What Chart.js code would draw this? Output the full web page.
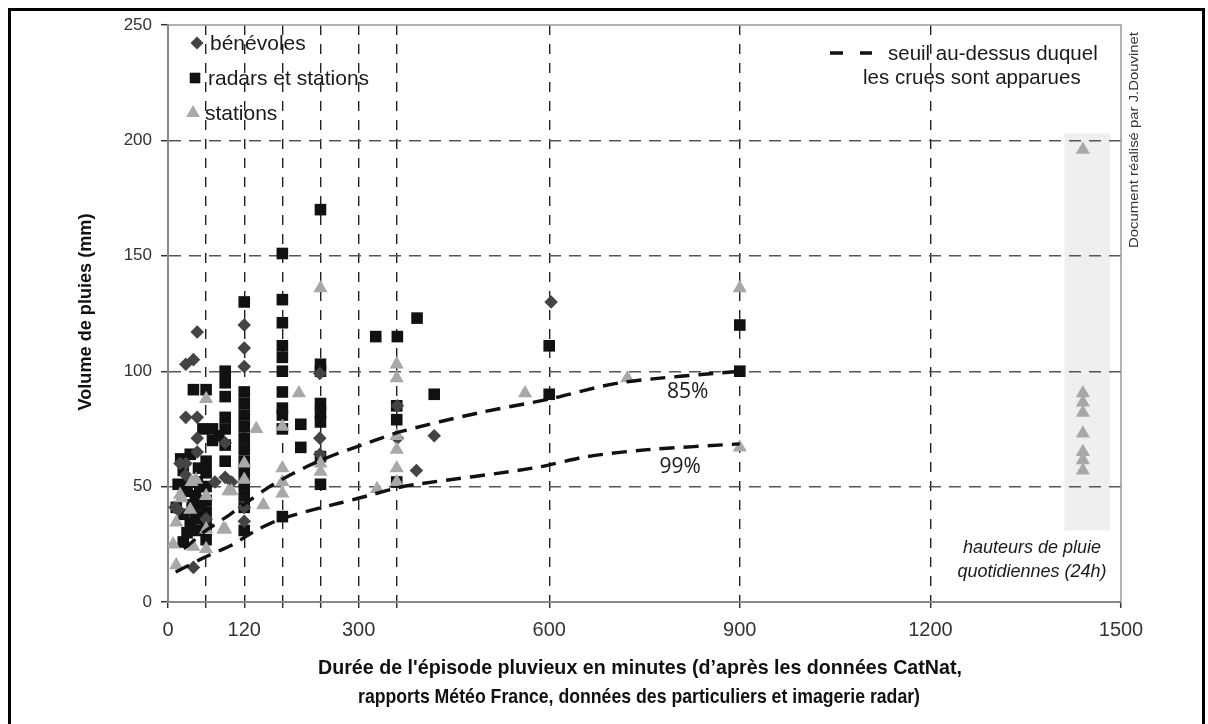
<!DOCTYPE html>
<html>
<head>
<meta charset="utf-8">
<script src="https://cdn.jsdelivr.net/npm/chart.js@4.4.0/dist/chart.umd.min.js"></script>
<style>
  html, body { margin: 0; padding: 0; background: #fff; }
  #wrap { width: 1208px; height: 724px; position: relative; }
</style>
</head>
<body>
<div id="wrap"><canvas id="chart" width="1208" height="724"></canvas></div>
<script>
// axes
const xGrid = [0, 60, 120, 180, 240, 300, 360, 600, 900, 1200, 1500];
const xLabels = [0, 120, 300, 600, 900, 1200, 1500];
const yMax = 250, yStep = 50;

// bénévoles (losanges)
const benevoles = [[46,117],[28,103],[40,105],[28,80],[46,80],[120,120],[120,110],[120,102],[239,99],
  [46,71],[90,69],[46,65],[28,60],[90,54],[74,52],[120,41],[120,35],[239,71],[239,64],[361,85],[361,71],
  [391,57],[11,41],[40,15],[603,130],[419,72],[19,60],[60,36],[16,40],[28,55],[100,52]];

// radars et stations (carrés)
const radars = [[180,151],[180,131],[180,121],[180,111],[180,106],[180,100],[180,91],[180,84],[180,81],[180,75],[180,37],
  [240,170],[240,103],[240,100],[240,86],[240,82],[240,78],[240,63],[240,51],
  [209,77],[209,67],[327,115],[361,115],[392,123],[360,85],[360,79],[360,52],[419,90],
  [600,111],[600,90],[900,120],[900,100],
  [120,130],[120,91],[120,86],[120,81],[120,76],[120,71],[120,66],[120,61],[120,56],[120,51],[120,46],[120,41],[120,31],
  [90,100],[90,95],[90,89],[90,80],[90,75],[90,68],[90,61],
  [55,75],[70,75],[70,70],[80,72],
  [60,61],[60,56],[60,50],[60,44],[60,39],[60,33],[60,27],[60,92],[40,92],
  [16,51],[24,57],[43,46],[43,37],[44,31],[24,26],[13,41],[30,48],[50,50],[35,34],[50,42],[25,38],[48,58],[35,64],[20,62],[30,30],
  [32,52],[38,42],[46,52],[52,36]];

// stations (triangles)
const stations = [[1440,196],[1440,90.5],[1440,86.5],[1440,82],[1440,73],[1440,65],[1440,61.5],[1440,57],
  [900,136],[900,67],[723,97],[562,90.5],
  [360,103],[360,97],[360,72],[360,66],[360,58],[360,52],[329,49],
  [240,136],[240,60],[240,56.5],[206,90.5],
  [180,76],[180,58],[180,52],[180,47],[150,42],[139,75],[120,60],[120,53],
  [90,31.5],[95,48],[60,88],[60,46],[60,31.5],[60,23],
  [8,25],[13,16],[21,45],[37,52],[40,24],[13,34.5],[35,40],[44,53],[19,46.5],[87,31.5],[100,48]];

// seuils
const seuil85 = [[25,23],[60,31],[98,38],[123,43],[166,51],[221,59],[264,64],[305,68],[369,74],[490,82],[601,88],[712,95],[900,100]];
const seuil99 = [[12,13],[55,19],[103,25],[123,28.5],[142,31.5],[178,36],[229,40],[272,43],[321,46.5],[361,49.5],[391,51],[574,58],[660,63],[755,66],[900,68.5]];
const seuilLabels = [['85%', 818, 91], ['99%', 806, 58.5]];

// bande 24h
const bande24h = { x0: 1411, x1: 1483, y0: 31, y1: 203 };

const pts = arr => arr.map(([x, y]) => ({ x, y }));
const FONT = '"Liberation Sans", Arial, sans-serif';

function fitText(ctx, text, cx, cy, font, w, rot) {
  ctx.save();
  ctx.font = font;
  const m = ctx.measureText(text).width;
  ctx.translate(cx, cy);
  if (rot) ctx.rotate(rot);
  ctx.scale(w / m, 1);
  ctx.textAlign = 'center';
  ctx.textBaseline = 'middle';
  ctx.fillText(text, 0, 0);
  ctx.restore();
}

function marker(ctx, style, x, y, r, color) {
  ctx.save();
  ctx.fillStyle = color;
  ctx.beginPath();
  if (style === 'rect') { const s = r * Math.SQRT1_2; ctx.rect(x - s, y - s, 2 * s, 2 * s); }
  else if (style === 'rectRot') { ctx.moveTo(x - r, y); ctx.lineTo(x, y - r); ctx.lineTo(x + r, y); ctx.lineTo(x, y + r); }
  else { ctx.moveTo(x, y - r); ctx.lineTo(x + r * 0.866, y + r / 2); ctx.lineTo(x - r * 0.866, y + r / 2); }
  ctx.closePath();
  ctx.fill();
  ctx.restore();
}

const decor = {
  id: 'decor',
  beforeDraw(chart) {
    const { ctx, scales: { x, y } } = chart;
    ctx.save();
    ctx.fillStyle = '#fff';
    ctx.fillRect(0, 0, chart.width, chart.height);
    ctx.fillStyle = '#efefef';
    ctx.fillRect(x.getPixelForValue(bande24h.x0), y.getPixelForValue(bande24h.y1),
      x.getPixelForValue(bande24h.x1) - x.getPixelForValue(bande24h.x0),
      y.getPixelForValue(bande24h.y0) - y.getPixelForValue(bande24h.y1));
    ctx.restore();
  },
  afterDraw(chart) {
    const { ctx, chartArea: a, scales: { x, y } } = chart;
    ctx.save();
    // cadre du graphique
    ctx.strokeStyle = '#999';
    ctx.lineWidth = 1.5;
    ctx.beginPath();
    ctx.moveTo(a.left, a.top); ctx.lineTo(a.right, a.top); ctx.lineTo(a.right, a.bottom);
    ctx.stroke();
    // cadre extérieur
    ctx.strokeStyle = '#000';
    ctx.lineWidth = 3;
    ctx.beginPath();
    ctx.moveTo(9.5, 724); ctx.lineTo(9.5, 9.5); ctx.lineTo(1203.5, 9.5); ctx.lineTo(1203.5, 724);
    ctx.stroke();

    // légende gauche
    ctx.fillStyle = '#1a1a1a';
    ctx.font = '21px ' + FONT;
    ctx.textBaseline = 'middle';
    ctx.textAlign = 'left';
    marker(ctx, 'rectRot', 197, 43, 6.5, '#444');
    ctx.fillText('bénévoles', 210, 44);
    marker(ctx, 'rect', 195, 78, 7.5, '#111');
    ctx.fillText('radars et stations', 208, 79);
    marker(ctx, 'triangle', 193, 113, 8, '#aaa');
    ctx.fillStyle = '#1a1a1a';
    ctx.fillText('stations', 205, 114);

    // légende droite
    ctx.strokeStyle = '#111';
    ctx.lineWidth = 3.5;
    ctx.beginPath();
    ctx.moveTo(830, 53); ctx.lineTo(843, 53);
    ctx.moveTo(860, 53); ctx.lineTo(872, 53);
    ctx.stroke();
    ctx.font = '20.5px ' + FONT;
    ctx.fillText('seuil au-dessus duquel', 888, 54);
    ctx.fillText('les crues sont apparues', 863, 78);

    // étiquettes des seuils
    ctx.font = '21px "Open Sans", sans-serif';
    ctx.textAlign = 'center';
    seuilLabels.forEach(([t, vx, vy]) => ctx.fillText(t, x.getPixelForValue(vx), y.getPixelForValue(vy)));

    // 24h
    ctx.font = 'italic 18px ' + FONT;
    ctx.fillText('hauteurs de pluie', 1032, 548);
    ctx.fillText('quotidiennes (24h)', 1032, 572);

    // crédit
    ctx.fillStyle = '#333';
    fitText(ctx, 'Document réalisé par J.Douvinet', 1134, 140, '13px ' + FONT, 216, -Math.PI / 2);

    // titres des axes
    ctx.fillStyle = '#111';
    fitText(ctx, 'Volume de pluies (mm)', 86, 312, 'bold 19px ' + FONT, 197, -Math.PI / 2);
    fitText(ctx, 'Durée de l\'épisode pluvieux en minutes (d’après les données CatNat,', 640, 668, 'bold 21px ' + FONT, 644);
    fitText(ctx, 'rapports Météo France, données des particuliers et imagerie radar)', 639, 697, 'bold 21px ' + FONT, 562);
    ctx.restore();
  }
};

const ctx = document.getElementById('chart').getContext('2d');
new Chart(ctx, {
  type: 'scatter',
  data: {
    datasets: [
      { label: '85%', data: pts(seuil85), showLine: true, borderColor: '#111', borderWidth: 3.4, borderDash: [15, 9], pointRadius: 0, tension: 0.3 },
      { label: '99%', data: pts(seuil99), showLine: true, borderColor: '#111', borderWidth: 3.4, borderDash: [15, 9], pointRadius: 0, tension: 0.3 },
      { label: 'stations', data: pts(stations), pointStyle: 'triangle', pointRadius: 8.2, backgroundColor: '#a8a8a8', borderColor: '#a8a8a8', borderWidth: 0 },
      { label: 'bénévoles', data: pts(benevoles), pointStyle: 'rectRot', pointRadius: 6.8, backgroundColor: '#444', borderColor: '#444', borderWidth: 0 },
      { label: 'radars et stations', data: pts(radars), pointStyle: 'rect', pointRadius: 8.2, backgroundColor: '#111', borderColor: '#111', borderWidth: 0 }
    ]
  },
  options: {
    responsive: false,
    animation: false,
    devicePixelRatio: 1,
    layout: { padding: { top: 25, right: 87, left: 0, bottom: 0 } },
    plugins: { legend: { display: false }, tooltip: { enabled: false } },
    scales: {
      x: {
        type: 'linear', min: 0, max: 1500,
        afterBuildTicks: s => { s.ticks = xGrid.map(v => ({ value: v })); },
        afterFit: s => { s.height = 122; },
        ticks: {
          autoSkip: false, maxRotation: 0, padding: 10, color: '#333',
          font: { family: FONT, size: 20 },
          callback: v => xLabels.includes(v) ? String(v) : ''
        },
        grid: {
          color: c => (c.tick && (c.tick.value === 0 || c.tick.value === 1500)) ? 'rgba(0,0,0,0)' : '#222',
          lineWidth: 1.4, tickLength: 6, tickColor: '#333', tickWidth: 1.5
        },
        border: { color: '#888', width: 2, dash: [10, 9] }
      },
      y: {
        min: 0, max: yMax,
        afterFit: s => { s.width = 168; },
        ticks: { stepSize: yStep, padding: 9, color: '#333', font: { family: FONT, size: 17 } },
        grid: {
          color: c => (c.tick && (c.tick.value === 0 || c.tick.value === yMax)) ? 'rgba(0,0,0,0)' : '#555',
          lineWidth: 1.4, tickLength: 7, tickColor: '#333', tickWidth: 1.5
        },
        border: { color: '#888', width: 2, dash: [12, 8] }
      }
    }
  },
  plugins: [decor]
});
</script>
</body>
</html>
